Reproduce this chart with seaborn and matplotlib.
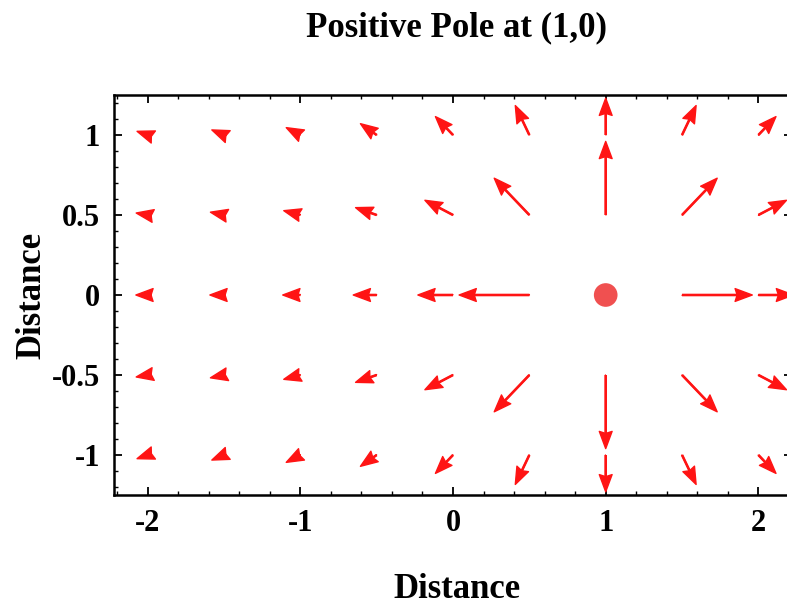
import numpy as np
import pandas as pd
import matplotlib
matplotlib.use("Agg")
import matplotlib.pyplot as plt
from matplotlib.ticker import MultipleLocator
import seaborn as sns

# Sample grid on which the field is drawn, and the source position
x_grid = [-2.0, -1.5, -1.0, -0.5, 0.0, 0.5, 1.0, 1.5, 2.0]
y_grid = [-1.0, -0.5, 0.0, 0.5, 1.0]
pole_x = [1.0]
pole_y = [0.0]
field_strength = 0.23  # arrow length at unit distance from the pole

x_ticks = [-2, -1, 0, 1, 2]
x_tick_labels = ["-2", "-1", "0", "1", "2"]
y_ticks = [-1, -0.5, 0, 0.5, 1]
y_tick_labels = ["-1", "-0.5", "0", "0.5", "1"]

title_text = "Positive Pole at (1,0)"
x_label = "Distance"
y_label = "Distance"

# 2-D point-source field: E = k * (r - r0) / |r - r0|^2
rows = []
for yv in y_grid:
    for xv in x_grid:
        dx, dy = xv - pole_x[0], yv - pole_y[0]
        r2 = dx * dx + dy * dy
        if r2 == 0:
            continue
        rows.append({"x": xv, "y": yv,
                     "u": field_strength * dx / r2,
                     "v": field_strength * dy / r2})
field = pd.DataFrame(rows)

sns.set_theme(style="ticks")
plt.rcParams["font.family"] = ["Liberation Serif", "DejaVu Serif"]
plt.rcParams["axes.unicode_minus"] = False
plt.rcParams["text.color"] = "black"
plt.rcParams["xtick.color"] = "black"
plt.rcParams["ytick.color"] = "black"

W, H = 787, 609
fig = plt.figure(figsize=(W / 100, H / 100), dpi=100)
left, right, top, bottom = 114, 792, 95, 495
ax = fig.add_axes([left / W, 1 - bottom / H, (right - left) / W, (bottom - top) / H])

ax.set_xlim(-2.22, 2.22)
ax.set_ylim(-1.25, 1.25)

arrow_red = "#ff1414"
common = dict(angles="xy", scale_units="xy", scale=1, units="dots",
              minshaft=0, minlength=0, color=arrow_red, zorder=3)

# shafts: plain lines tapering into the tip
ax.quiver(field["x"], field["y"], field["u"], field["v"],
          width=2.6, headwidth=1, headlength=3, headaxislength=3, **common)
# heads: solid wedges of fixed size at each tip
ax.quiver(field["x"], field["y"], field["u"], field["v"],
          width=0.4, headwidth=32, headlength=43, headaxislength=38,
          linewidths=1.0, edgecolors=arrow_red, **common)

sns.scatterplot(x=pole_x, y=pole_y, s=290, color="#f05050",
                edgecolor="none", ax=ax, zorder=4, legend=False)

ax.set_xticks(x_ticks)
ax.set_xticklabels(x_tick_labels)
ax.set_yticks(y_ticks)
ax.set_yticklabels(y_tick_labels)
ax.xaxis.set_minor_locator(MultipleLocator(0.2))
ax.yaxis.set_minor_locator(MultipleLocator(0.1))

ax.tick_params(axis="both", which="both", direction="in",
               top=True, right=True, color="black")
ax.tick_params(axis="both", which="major", length=6, width=1.3,
               labelsize=22, pad=10, labelcolor="black")
ax.tick_params(axis="both", which="minor", length=3, width=1.0)
for lab in ax.get_xticklabels() + ax.get_yticklabels():
    lab.set_fontweight("bold")

for sp in ax.spines.values():
    sp.set_linewidth(1.8)
    sp.set_color("black")
    sp.set_zorder(5)

ax.set_xlabel("")
ax.set_ylabel("")

fig.text(456 / W, 1 - 28 / H, title_text, ha="center", va="center",
         fontsize=25, fontweight="bold", color="black")
fig.text(457 / W, 1 - 590 / H, x_label, ha="center", va="center",
         fontsize=25, fontweight="bold", color="black")
fig.text(32 / W, 1 - 295 / H, y_label, ha="center", va="center",
         rotation=90, fontsize=25, fontweight="bold", color="black")

fig.savefig("out.png", dpi=100)
